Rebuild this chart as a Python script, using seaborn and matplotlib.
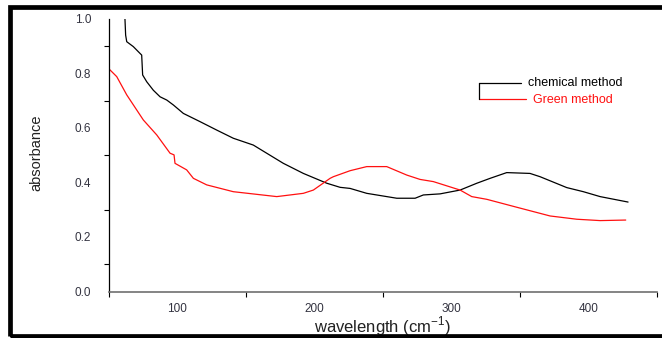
import numpy as np
import pandas as pd
import matplotlib
matplotlib.use("Agg")
import matplotlib.pyplot as plt
import seaborn as sns
from matplotlib.lines import Line2D
from matplotlib.patches import Rectangle
from matplotlib.ticker import MultipleLocator

# values
chem_x = [62, 62.5, 63.3, 68.1, 73.0, 74.2, 74.9, 77.9, 82.7, 87.6, 92.5, 97.3,
          104.6, 116.7, 128.9, 141.0, 155.6, 165.4, 177.5, 192.1, 209.2, 218.9,
          226.2, 238.3, 260.2, 273.6, 279.6, 291.8, 306.4, 318.6, 328.3, 340.4,
          357.4, 364.7, 384.2, 396.3, 408.5, 428.9]
chem_y = [1.0, 0.94, 0.916, 0.898, 0.873, 0.867, 0.794, 0.769, 0.738, 0.714,
          0.702, 0.684, 0.653, 0.623, 0.592, 0.562, 0.537, 0.507, 0.470, 0.433,
          0.397, 0.382, 0.378, 0.360, 0.342, 0.342, 0.354, 0.358, 0.372, 0.397,
          0.415, 0.436, 0.433, 0.421, 0.381, 0.366, 0.348, 0.328]

green_x = [50, 56.0, 63.3, 75.4, 85.2, 94.9, 97.8, 98.5, 107.0, 111.9, 121.6,
           141.0, 172.7, 192.1, 199.4, 211.6, 214.0, 226.2, 238.3, 252.9, 267.5,
           277.2, 286.9, 306.4, 314.9, 325.9, 347.7, 372.0, 391.5, 408.5, 427.2]
green_y = [0.818, 0.788, 0.721, 0.629, 0.574, 0.507, 0.501, 0.470, 0.446, 0.415,
           0.391, 0.366, 0.348, 0.360, 0.372, 0.415, 0.421, 0.443, 0.458, 0.458,
           0.427, 0.411, 0.403, 0.372, 0.348, 0.338, 0.309, 0.277, 0.265, 0.260,
           0.262]

x_ticks = [100, 200, 300, 400]
y_ticks = [0.0, 0.2, 0.4, 0.6, 0.8, 1.0]

sns.set_theme(style="white")
plt.rcParams['font.family'] = ['Liberation Sans', 'DejaVu Sans']

W, H = 662, 338
fig = plt.figure(figsize=(W / 100, H / 100), dpi=100)
ax = fig.add_axes([108.5 / W, 1 - 291.5 / H, 548.5 / W, 272.7 / H])

chem = pd.DataFrame({'x': chem_x, 'y': chem_y})
green = pd.DataFrame({'x': green_x, 'y': green_y})
sns.lineplot(data=chem, x='x', y='y', ax=ax, color='black', lw=0.9,
             sort=False, estimator=None, legend=False)
sns.lineplot(data=green, x='x', y='y', ax=ax, color='#ff1010', lw=0.9,
             sort=False, estimator=None, legend=False)

ax.set_xlim(50, 450)
ax.set_ylim(0, 1.0)
ax.set_xticks(x_ticks)
ax.set_yticks(y_ticks)
ax.set_yticklabels([f'{v:.1f}' for v in y_ticks])
ax.xaxis.set_minor_locator(MultipleLocator(50))
ax.yaxis.set_minor_locator(MultipleLocator(0.1))

for s in ['top', 'right']:
    ax.spines[s].set_visible(False)
ax.spines['left'].set_color('black')
ax.spines['left'].set_linewidth(0.9)
ax.spines['bottom'].set_color('#707070')
ax.spines['bottom'].set_linewidth(1.2)

ax.tick_params(axis='both', which='major', direction='out', length=5.5,
               width=0.8, color='black', labelsize=8.5, labelcolor='#333340')
ax.tick_params(axis='y', which='major', pad=7)
ax.tick_params(axis='x', which='major', pad=3)
ax.tick_params(axis='both', which='minor', direction='out', length=3.5,
               width=0.8, color='black', bottom=True, left=True)

ax.set_xlabel('wavelength (cm$^{\\mathregular{-1}}$)', fontsize=12, color='#222222')
ax.set_ylabel('absorbance', fontsize=10.5, color='#222222')
ax.xaxis.set_label_coords(0.5, -0.085)
ax.yaxis.set_label_coords(-0.118, 0.51)

# Origin style legend with bracket
def px(x, y):
    return x / W, 1 - y / H

fig.lines.append(Line2D([px(479, 0)[0], px(521, 0)[0]], [px(0, 83)[1]] * 2,
                        color='black', lw=0.9, transform=fig.transFigure))
fig.lines.append(Line2D([px(479, 0)[0], px(526, 0)[0]], [px(0, 99)[1]] * 2,
                        color='#ff1010', lw=0.9, transform=fig.transFigure))
fig.lines.append(Line2D([px(479, 0)[0]] * 2, [px(0, 83)[1], px(0, 99)[1]],
                        color='black', lw=0.9, transform=fig.transFigure))
fig.text(*px(528, 83), 'chemical method', fontsize=9, color='black',
         va='center', ha='left')
fig.text(*px(533, 100), 'Green method', fontsize=9, color='#ff1010',
         va='center', ha='left')

# black frame around the figure
fig.patches.append(Rectangle(px(9.5, 336), (W + 20) / W, 329 / H,
                             transform=fig.transFigure, fill=False,
                             edgecolor='black', linewidth=3.4, clip_on=False))

fig.savefig('out.png', dpi=100)
